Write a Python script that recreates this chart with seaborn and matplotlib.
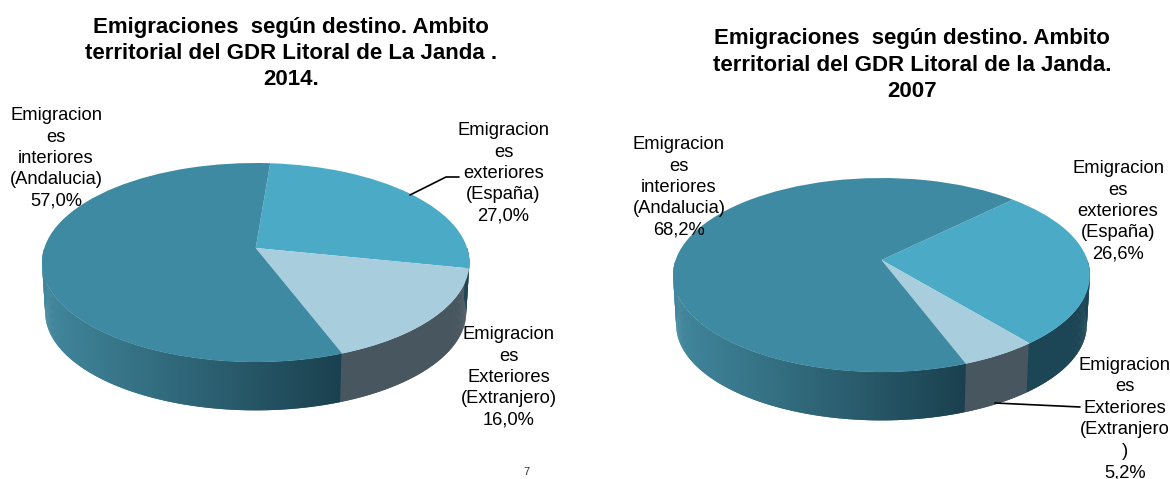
import numpy as np
import matplotlib
matplotlib.use("Agg")
import matplotlib.pyplot as plt
import seaborn as sns
from matplotlib.transforms import Transform
from matplotlib.collections import PolyCollection
from matplotlib.colors import to_rgb

sns.set_theme(style="white")
plt.rcParams['font.family'] = ['Liberation Sans', 'DejaVu Sans']

# ---- data ----
titles = ["Emigraciones  según destino. Ambito\nterritorial del GDR Litoral de La Janda .\n2014.",
          "Emigraciones  según destino. Ambito\nterritorial del GDR Litoral de la Janda.\n2007"]
values_2014 = [27.0, 16.0, 57.0]
values_2007 = [26.6, 5.2, 68.2]
names_2014 = ["Emigracion\nes\nexteriores\n(España)", "Emigracion\nes\nExteriores\n(Extranjero)",
              "Emigracion\nes\ninteriores\n(Andalucia)"]
names_2007 = ["Emigracion\nes\nexteriores\n(España)", "Emigracion\nes\nExteriores\n(Extranjero\n)",
              "Emigracion\nes\ninteriores\n(Andalucia)"]
top_colors = ["#4BABC6", "#A8CDDC", "#3E8AA3"]
wall_dark = ["#1C4555", "#47565F", "#1A404E"]
wall_light = ["#1C4555", "#47565F", "#41879D"]


class Perspective(Transform):
    input_dims = output_dims = 2

    def __init__(self, cx, cy, a, c, k, scale=1.0, dy=0.0):
        super().__init__()
        self.p = (cx, cy, a, c, k, scale, dy)

    def transform_non_affine(self, xy):
        cx, cy, a, c, k, s, dy = self.p
        xy = np.asarray(xy, float)
        d = 1 + k * xy[:, 1]
        return np.column_stack([cx + s * a * xy[:, 0] / d, cy + dy - s * c * xy[:, 1] / d])


def draw_pie(ax, values, start, cx, cy, a, c, k, depth, bottom_scale):
    top = Perspective(cx, cy, a, c, k)
    low = Perspective(cx, cy, a, c, k, bottom_scale, depth)
    ends = np.cumsum(values) * 3.6
    bounds = start - np.concatenate([[0], ends])
    # side wall: strips that follow the rim, each one overlapping the next
    ts = np.arange(180.0, 360.01, 0.5)
    unit = np.column_stack([np.cos(np.radians(ts)), np.sin(np.radians(ts))])
    up, dn = top.transform(unit), low.transform(unit)
    main_end = top.transform(np.array([[np.cos(np.radians(bounds[2])), np.sin(np.radians(bounds[2]))]]))[0, 0]
    left = up[:, 0].min()
    polys, cols = [], []
    for i in range(len(ts) - 1):
        t = (ts[i] + ts[i + 1]) / 2
        idx = min(np.searchsorted(ends, (start - t) % 360), len(values) - 1)
        f = np.clip((up[i, 0] - left) / (main_end - left), 0, 1)
        col = np.array(to_rgb(wall_light[idx])) * (1 - f) + np.array(to_rgb(wall_dark[idx])) * f
        j = min(i + 2, len(ts) - 1)
        polys.append([up[i], up[j], dn[j], dn[i]])
        cols.append(col)
    ax.add_collection(PolyCollection(polys, facecolors=cols, edgecolors="none", zorder=1))
    # top face
    wedges, _ = ax.pie(values, startangle=start, counterclock=False, colors=top_colors,
                       radius=1.0, wedgeprops=dict(linewidth=0))
    for w in wedges:
        w.set_transform(top + ax.transData)
        w.set_zorder(2)


def pct(v):
    return f"{v:.1f}".replace(".", ",") + "%"


fig = plt.figure(figsize=(11.7, 4.79), dpi=100, facecolor="white")
ax = fig.add_axes([0, 0, 1, 1])

draw_pie(ax, values_2014, 85.5, 255.7, 248, 211.4, 97.4, 0.146, 50, 0.985)
draw_pie(ax, values_2007, 45, 881.5, 260, 205.9, 94.7, 0.155, 50, 0.985)

ax.set_aspect("auto")
ax.set_xlim(0, 1170)
ax.set_ylim(479, 0)
ax.axis("off")

txt = dict(ha="center", va="center", color="black", fontsize=13.2, linespacing=1.34, zorder=5)
head = dict(ha="center", va="center", color="black", fontsize=16.0, fontweight="bold", linespacing=1.34)
ax.text(291, 53.5, titles[0], **head)
ax.text(912, 65, titles[1], **head)

ax.text(56, 158.5, names_2014[2] + "\n" + pct(values_2014[2]), **txt)
ax.text(503.5, 173.5, names_2014[0] + "\n" + pct(values_2014[0]), **txt)
ax.text(509, 377.5, names_2014[1] + "\n" + pct(values_2014[1]), **txt)
ax.text(679, 187.5, names_2007[2] + "\n" + pct(values_2007[2]), **txt)
ax.text(1118, 211.5, names_2007[0] + "\n" + pct(values_2007[0]), **txt)
ax.text(1125, 419, names_2007[1] + "\n" + pct(values_2007[1]), **txt)

ax.plot([410, 446, 459], [195, 177, 177], color="black", lw=1.2, zorder=4)
ax.plot([995, 1080], [403, 407], color="black", lw=1.2, zorder=4)
ax.text(526, 472, "7", ha="center", va="center", fontsize=8, color="#333333")

fig.savefig("out.png", dpi=100, facecolor="white")
